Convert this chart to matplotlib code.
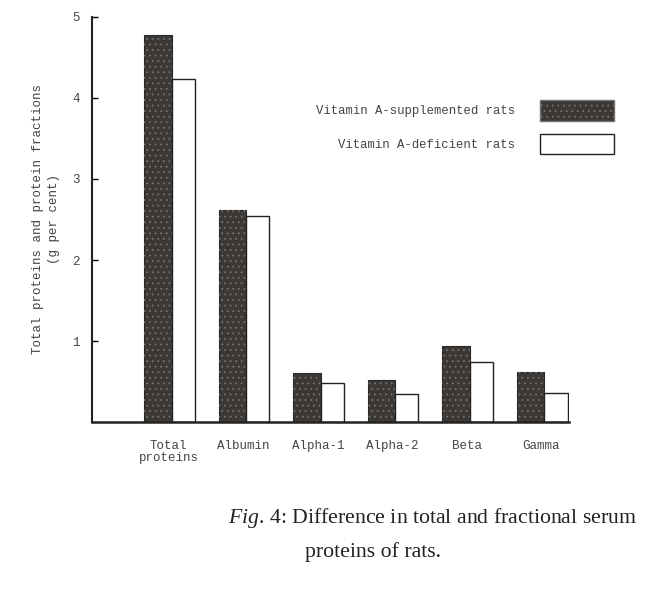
import numpy as np
import matplotlib.pyplot as plt
from matplotlib.patches import Patch

plt.rcParams['mathtext.fontset'] = 'custom'
plt.rcParams['mathtext.rm'] = 'Liberation Serif'
plt.rcParams['mathtext.it'] = 'Liberation Serif:italic'
plt.rcParams['hatch.linewidth'] = 0.6

# valores (g por cento)
categorias = ["Total\nproteins", "Albumin", "Alpha-1", "Alpha-2", "Beta", "Gamma"]
suplementados = [4.78, 2.62, 0.60, 0.52, 0.94, 0.62]
deficientes = [4.23, 2.54, 0.48, 0.35, 0.74, 0.36]

mono = "Liberation Mono"
cinza_txt = '#444444'
escuro = '#3b3836'

fig = plt.figure(figsize=(6.5, 6.03), dpi=100)
ax = fig.add_axes([0.1415, 0.300, 0.734, 0.672])

x = np.arange(len(categorias))
w_esc = 0.37
w_cla = 0.31

ax.bar(x - w_esc, suplementados, width=w_esc, align='edge',
       color=escuro, edgecolor='#2a2826', linewidth=0.8)
# textura pontilhada tipo impressao
ax.bar(x - w_esc, suplementados, width=w_esc, align='edge',
       fill=False, hatch='...', edgecolor='#77726e', linewidth=0)
ax.bar(x, deficientes, width=w_cla, align='edge',
       color='white', edgecolor='#222222', linewidth=1.0)

ax.set_xlim(-1.07, 5.33)
ax.set_ylim(0, 5)

for s in ['top', 'right']:
    ax.spines[s].set_visible(False)
ax.spines['left'].set_linewidth(1.5)
ax.spines['bottom'].set_linewidth(1.8)
ax.spines['left'].set_color('#222222')
ax.spines['bottom'].set_color('#222222')

ax.set_yticks([1, 2, 3, 4, 5])
ax.set_yticklabels(['1', '2', '3', '4', '5'], fontsize=9, family=mono, color=cinza_txt)
ax.tick_params(axis='y', direction='in', length=4, pad=9, width=1)

ax.set_xticks(x - 0.04)
ax.set_xticklabels(categorias, fontsize=9, family=mono, color=cinza_txt, linespacing=1.0)
ax.tick_params(axis='x', length=0, pad=13)

ax.set_ylabel("Total proteins and protein fractions\n(g per cent)",
              fontsize=9, family=mono, color=cinza_txt, linespacing=1.4)
ax.yaxis.set_label_coords(-0.067, 0.5)

handles = [Patch(facecolor=escuro, edgecolor='#2a2826', hatch='...'),
           Patch(facecolor='white', edgecolor='#222222', linewidth=1.0)]
leg = ax.legend(handles, ["Vitamin A-supplemented rats", "Vitamin A-deficient rats"],
                loc='upper right', bbox_to_anchor=(1.105, 0.806), frameon=False,
                markerfirst=False, prop={'family': mono, 'size': 8.8},
                handlelength=6.1, handleheight=2.2, handletextpad=2.0,
                labelspacing=1.05, labelcolor=cinza_txt, borderaxespad=0)
leg.legend_handles[0].set_edgecolor('#77726e')

fig.text(0.351, 0.133, r"$\it{Fig}$. 4: Difference in total and fractional serum",
         fontsize=15.7, family='Liberation Serif', ha='left', va='baseline', color='#222222')
fig.text(0.469, 0.077, "proteins of rats.", fontsize=15.7, family='Liberation Serif',
         ha='left', va='baseline', color='#222222')

fig.savefig("out.png", dpi=100, facecolor='white')
